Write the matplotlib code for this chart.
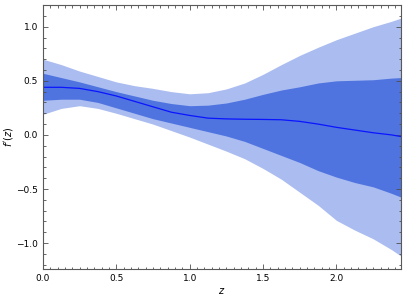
import matplotlib
matplotlib.use('Agg')
import matplotlib.pyplot as plt
from matplotlib.ticker import MultipleLocator

# values
z = [0.0, 0.125, 0.25, 0.375, 0.5, 0.625, 0.75, 0.875, 1.0, 1.125, 1.25,
     1.375, 1.5, 1.625, 1.75, 1.875, 2.0, 2.125, 2.25, 2.375, 2.44]
mean = [0.44, 0.44, 0.43, 0.40, 0.36, 0.31, 0.26, 0.21, 0.18, 0.155, 0.148,
        0.145, 0.143, 0.14, 0.125, 0.10, 0.07, 0.045, 0.02, 0.0, -0.015]
dark_hi = [0.57, 0.53, 0.49, 0.445, 0.40, 0.36, 0.32, 0.29, 0.27, 0.275, 0.295,
           0.33, 0.375, 0.415, 0.445, 0.48, 0.50, 0.505, 0.51, 0.525, 0.53]
dark_lo = [0.32, 0.33, 0.33, 0.30, 0.25, 0.20, 0.15, 0.11, 0.07, 0.03, -0.01,
           -0.06, -0.125, -0.19, -0.255, -0.33, -0.39, -0.44, -0.48, -0.54, -0.575]
outer_hi = [0.70, 0.65, 0.59, 0.54, 0.49, 0.455, 0.43, 0.40, 0.38, 0.39, 0.425,
            0.48, 0.56, 0.65, 0.735, 0.81, 0.88, 0.94, 1.0, 1.05, 1.08]
outer_lo = [0.19, 0.245, 0.27, 0.245, 0.20, 0.15, 0.10, 0.04, -0.02, -0.085, -0.15,
            -0.22, -0.31, -0.41, -0.53, -0.65, -0.79, -0.88, -0.96, -1.06, -1.12]

fig = plt.figure(figsize=(4.08, 2.98), dpi=100)
ax = fig.add_axes([0.105, 0.097, 0.878, 0.886])

ax.fill_between(z, outer_lo, outer_hi, color='#aabcf0', lw=0)
ax.fill_between(z, dark_lo, dark_hi, color='#4f74e0', lw=0)
ax.plot(z, mean, color='#0a14ff', lw=0.9)

ax.set_xlim(0, 2.44)
ax.set_ylim(-1.24, 1.2)
ax.xaxis.set_major_locator(MultipleLocator(0.5))
ax.xaxis.set_minor_locator(MultipleLocator(0.05))
ax.yaxis.set_major_locator(MultipleLocator(0.5))
ax.yaxis.set_minor_locator(MultipleLocator(0.1))
ax.tick_params(which='both', direction='in', top=True, right=True,
               labelsize=6.5, color='0.3', width=0.6)
ax.tick_params(which='major', length=3.5)
ax.tick_params(which='minor', length=1.8)
for s in ax.spines.values():
    s.set_color('0.35')
    s.set_linewidth(0.8)

ax.set_xlabel('$z$', fontsize=7, labelpad=2)
ax.set_ylabel("$f'(z)$", fontsize=7, labelpad=1)

fig.savefig('out.png', dpi=100)
